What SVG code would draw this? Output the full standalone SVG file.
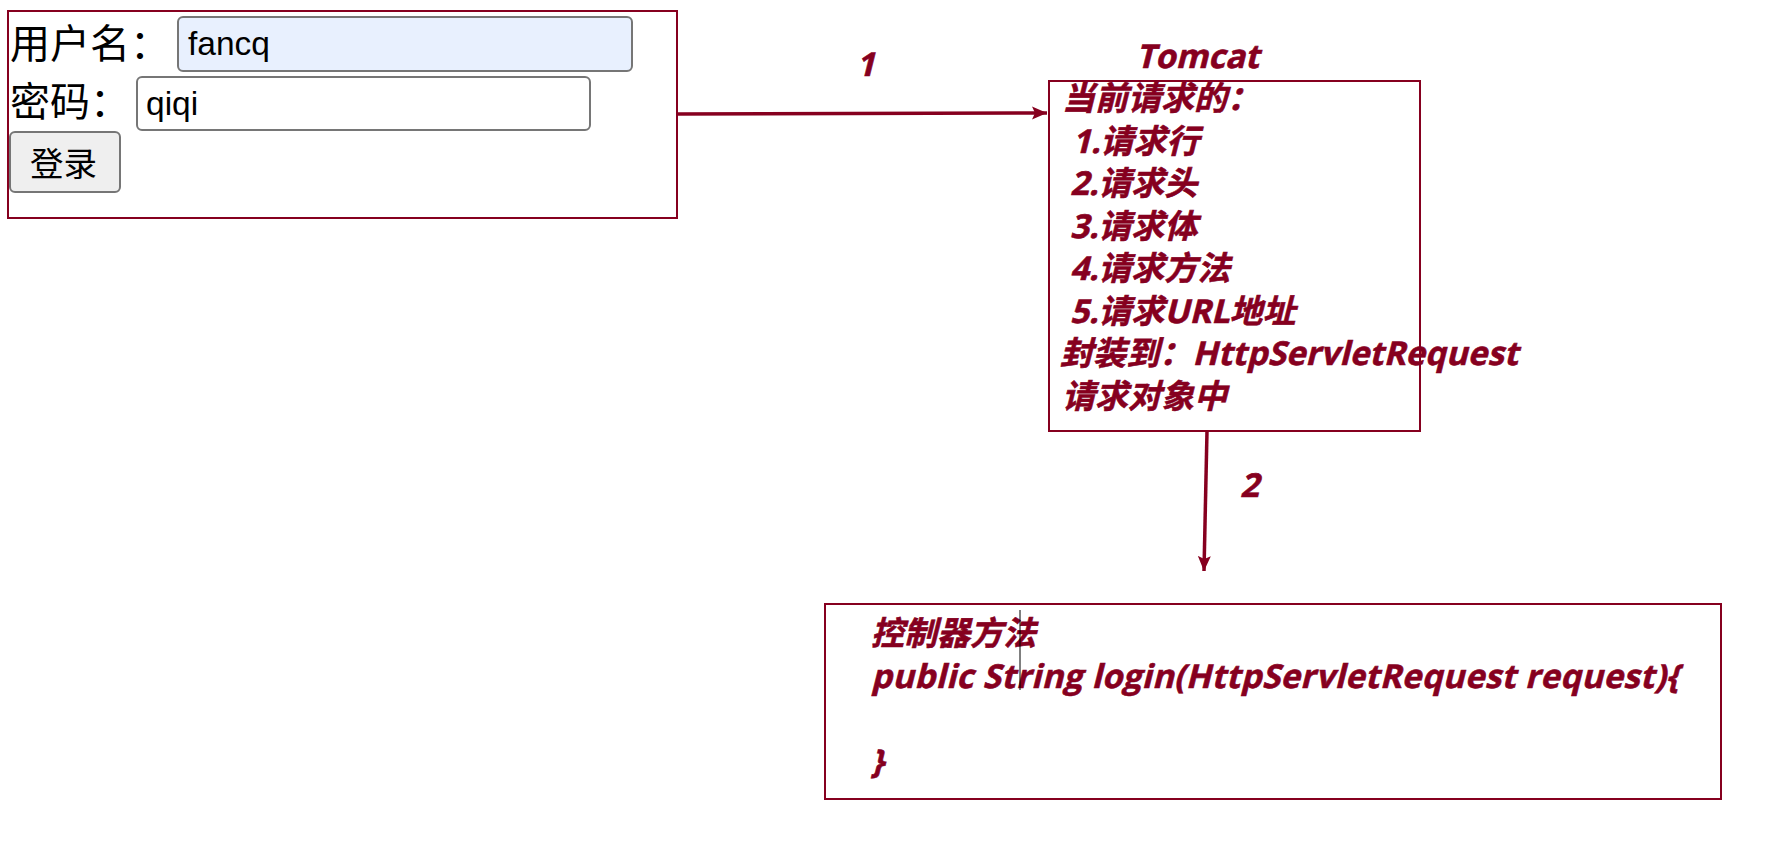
<svg xmlns="http://www.w3.org/2000/svg" width="1773" height="843" viewBox="0 0 1773 843">
<defs>
<style>
.box{fill:none;stroke:#86001f;stroke-width:2}
.t{font-family:"Open Sans","Noto Sans CJK SC",sans-serif;font-weight:700;font-size:33px;fill:#86001f;stroke:#86001f;stroke-width:0.6}
.lbl{font-family:"Noto Sans CJK SC",sans-serif;font-size:40px;fill:#000}
.inp{stroke:#767676;stroke-width:2}
.val{font-family:"Liberation Sans",Arial,sans-serif;font-size:33.5px;fill:#000}
.conn{fill:none;stroke:#86001f;stroke-width:3.5}
</style>
<marker id="ah" markerUnits="userSpaceOnUse" markerWidth="16" markerHeight="14" refX="15" refY="7" orient="auto">
<path d="M0,0.5 L15,7 L0,13.5 L3,7 z" fill="#86001f"/>
</marker>
</defs>
<rect width="1773" height="843" fill="#fff"/>

<g id="login-form">
<rect class="box" x="8" y="11" width="669" height="207"/>
<text class="lbl" x="10" y="58">用户名：</text>
<rect class="inp" x="178" y="17" width="454" height="54" rx="5" fill="#e8f0fe"/>
<text class="val" x="188" y="55">fancq</text>
<text class="lbl" x="10" y="116">密码：</text>
<rect class="inp" x="137" y="77" width="453" height="53" rx="5" fill="#fff"/>
<text class="val" x="146" y="115">qiqi</text>
<rect class="inp" x="10" y="132" width="110" height="60" rx="5" fill="#efefef"/>
<text x="30" y="176" style="font-family:'Noto Sans CJK SC',sans-serif;font-size:33.5px;fill:#000">登录</text>
</g>

<g id="tomcat">
<text class="t" transform="translate(1136 68) skewX(-14)">Tomcat</text>
<rect class="box" x="1049" y="81" width="371" height="350"/>
<text class="t" transform="translate(1062 110) skewX(-14)">当前请求的：</text>
<text class="t" transform="translate(1072 152.5) skewX(-14)">1.请求行</text>
<text class="t" transform="translate(1070 195) skewX(-14)">2.请求头</text>
<text class="t" transform="translate(1070 237.5) skewX(-14)">3.请求体</text>
<text class="t" transform="translate(1070 280) skewX(-14)">4.请求方法</text>
<text class="t" transform="translate(1070 322.5) skewX(-14)">5.请求URL地址</text>
<text class="t" transform="translate(1060 365) skewX(-14)" textLength="458">封装到：HttpServletRequest</text>
<text class="t" transform="translate(1062 407.5) skewX(-14)">请求对象中</text>
</g>

<g id="controller">
<rect class="box" x="825" y="604" width="896" height="195"/>
<text class="t" transform="translate(871 645) skewX(-14)">控制器方法</text>
<text class="t" transform="translate(871 688) skewX(-14)" textLength="808">public String login(HttpServletRequest request){</text>
<text class="t" transform="translate(871 773) skewX(-14)">}</text>
<line x1="1020" y1="610" x2="1020" y2="690" stroke="#000" stroke-width="1"/>
</g>

<g id="connectors">
<line class="conn" x1="677" y1="114" x2="1047" y2="113" marker-end="url(#ah)"/>
<text class="t" transform="translate(856 76) skewX(-14)">1</text>
<line class="conn" x1="1207" y1="431" x2="1204" y2="571" marker-end="url(#ah)"/>
<text class="t" transform="translate(1240 497) skewX(-14)">2</text>
</g>
</svg>
